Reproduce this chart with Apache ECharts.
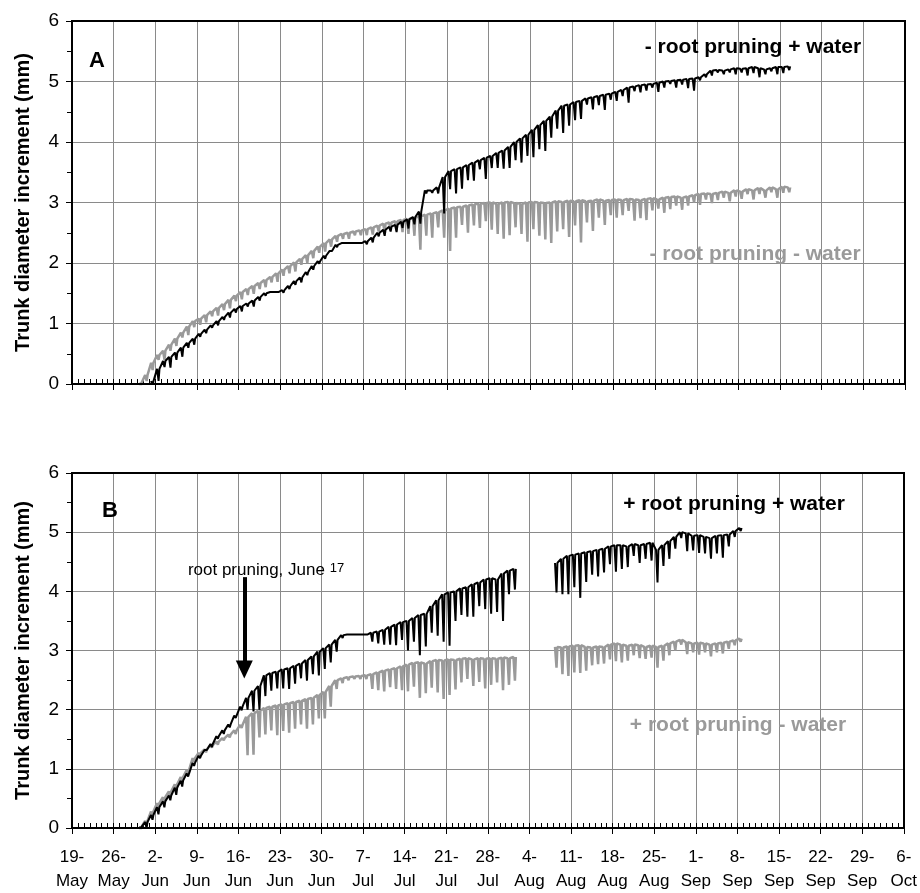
<!DOCTYPE html>
<html><head><meta charset="utf-8">
<script src="https://cdn.jsdelivr.net/npm/echarts@6/dist/echarts.min.js"></script>
<style>html,body{margin:0;padding:0;background:#fff}#c{width:920px;height:893px}</style>
</head><body><div id="c"></div>
<script>
// x axis: days since 19 May (0..140), weekly ticks
const tickLabels = ['19-\nMay','26-\nMay','2-\nJun','9-\nJun','16-\nJun','23-\nJun','30-\nJun','7-\nJul','14-\nJul','21-\nJul','28-\nJul','4-\nAug','11-\nAug','18-\nAug','25-\nAug','1-\nSep','8-\nSep','15-\nSep','22-\nSep','29-\nSep','6-\nOct'];

// Panel A, "- root pruning + water" (black): daily maxima and midday shrinkage, from day 13
const aBlackStart = 13;
const aBlackMax = [0.05,0.25,0.38,0.45,0.52,0.6,0.68,0.75,
0.83,0.9,0.97,1.04,1.11,1.18,1.24,1.29,1.33,1.38,
1.44,1.5,1.52,1.52,1.55,1.62,1.7,1.76,1.85,1.95,
2.03,2.12,2.2,2.3,2.33,2.33,2.33,2.33,2.36,2.42,
2.5,2.55,2.6,2.63,2.68,2.72,2.76,2.85,3.2,3.2,
3.25,3.42,3.52,3.55,3.58,3.62,3.66,3.7,3.74,3.77,
3.82,3.86,3.92,4.0,4.06,4.12,4.2,4.28,4.35,4.42,
4.52,4.6,4.62,4.66,4.68,4.72,4.74,4.76,4.78,4.8,
4.83,4.86,4.9,4.92,4.94,4.95,4.96,4.98,5.0,5.01,
5.02,5.03,5.04,5.05,5.07,5.12,5.18,5.19,5.18,5.2,
5.22,5.21,5.22,5.24,5.22,5.2,5.22,5.24,5.24,5.25];
const aBlackDip = [0.08,0.2,0.1,0.18,0.12,0.15,0.08,0.1,
0.05,0.06,0.04,0.07,0.05,0.08,0.06,0.09,0.05,0.1,0.06,0.04,0.02,0.03,
0.04,0.05,0.06,0.08,0.05,0.06,0.04,0.05,0.03,0.04,0.02,0.02,0.02,0.02,
0.05,0.08,0.06,0.1,0.08,0.12,0.1,0.15,0.12,0.2,
0.05,0.04,0.1,
0.6,0.3,0.4,0.35,0.25,0.3,0.15,0.35,0.2,0.25,0.3,0.35,0.3,0.4,0.35,0.45,0.4,0.5,0.35,0.3,
0.45,0.35,0.3,0.3,0.1,0.2,0.15,0.25,0.1,
0.15,0.1,0.25,0.08,0.12,0.1,0.06,0.15,0.1,0.05,0.12,0.08,0.15,0.2,0.05,
0.05,0.08,0.04,0.06,0.05,0.1,0.06,0.12,0.1,0.15,0.08,0.05,0.12,0.1,0.06];

// Panel A, "- root pruning - water" (grey), from day 11
const aGreyStart = 11;
const aGreyMax = [0.02,0.15,0.35,0.48,0.55,0.65,0.75,0.85,0.95,1.04,
1.08,1.14,1.2,1.26,1.32,1.39,1.46,1.52,1.57,1.62,
1.67,1.72,1.77,1.83,1.89,1.95,2.01,2.07,2.13,2.2,
2.27,2.33,2.39,2.45,2.48,2.5,2.52,2.54,2.56,2.59,
2.62,2.65,2.67,2.69,2.71,2.73,2.75,2.77,2.8,2.82,
2.84,2.87,2.9,2.92,2.93,2.95,2.97,2.98,2.99,3.0,
2.98,3.0,3.01,2.99,2.98,3.0,3.01,3.0,2.99,3.0,
3.02,3.01,3.03,3.02,3.04,3.02,3.03,3.05,3.03,3.04,
3.05,3.04,3.06,3.05,3.04,3.06,3.07,3.05,3.08,3.09,
3.1,3.08,3.1,3.12,3.14,3.15,3.14,3.16,3.18,3.16,
3.2,3.18,3.22,3.2,3.24,3.2,3.25,3.22,3.26,3.25];
const aGreyDip = [0.05,0.1,0.12,0.08,0.15,0.1,0.12,0.08,0.14,0.1,
0.1,0.12,0.08,0.13,0.1,0.14,0.09,0.12,0.1,0.13,
0.1,0.12,0.09,0.14,0.1,0.12,0.15,0.1,0.13,0.12,
0.1,0.14,0.12,0.1,0.08,0.1,0.06,0.08,0.1,0.12,
0.1,0.14,0.12,0.15,0.2,0.25,0.3,0.55,0.35,0.4,
0.25,0.45,0.7,0.5,0.3,0.45,0.35,0.4,0.3,0.45,
0.5,0.6,0.55,0.4,0.5,0.65,0.45,0.55,0.6,0.67,
0.5,0.45,0.6,0.4,0.7,0.35,0.5,0.3,0.4,0.25,
0.3,0.25,0.2,0.35,0.3,0.35,0.2,0.15,0.25,0.2,
0.15,0.2,0.15,0.12,0.18,0.1,0.15,0.12,0.1,0.14,
0.1,0.12,0.08,0.15,0.1,0.12,0.08,0.14,0.1,0.08];

// Panel B, "+ root pruning + water" (black): before and after the recording gap
const bBlackStart1 = 11;
const bBlackMax1 = [0.02,0.1,0.22,0.35,0.45,0.55,0.68,0.8,0.92,1.1,
1.22,1.32,1.42,1.55,1.65,1.75,1.9,2.05,2.2,2.32,
2.4,2.58,2.62,2.64,2.68,2.7,2.74,2.78,2.84,2.9,
2.98,3.04,3.1,3.18,3.26,3.27,3.27,3.27,3.27,3.3,
3.32,3.35,3.4,3.44,3.48,3.5,3.55,3.6,3.62,3.75,
3.85,3.95,3.98,4.0,4.05,4.07,4.12,4.15,4.2,4.22,
4.2,4.3,4.35,4.38];
const bBlackDip1 = [0.05,0.1,0.08,0.12,0.1,0.08,0.12,0.1,0.05,0.05,
0.04,0.03,0.05,0.04,0.06,0.05,0.04,0.06,0.2,0.35,
0.4,0.35,0.3,0.28,0.32,0.35,0.3,0.25,0.35,0.3,
0.4,0.35,0.3,0.2,0.05,0.02,0.02,0.02,0.02,0.15,
0.2,0.25,0.3,0.35,0.3,0.5,0.4,0.68,0.55,0.45,
0.6,0.8,0.9,0.5,0.45,0.5,0.55,0.4,0.5,0.6,
0.55,0.8,0.4,0.35];
const bBlackStart2 = 81;
const bBlackMax2 = [4.48,4.55,4.6,4.62,4.64,4.66,4.68,4.7,4.72,4.76,
4.78,4.78,4.76,4.8,4.78,4.8,4.82,4.7,4.78,4.85,
4.92,5.0,4.98,4.94,4.95,4.92,4.9,4.94,4.95,4.96,
5.02,5.07];
const bBlackDip2 = [0.5,0.6,0.65,0.55,0.75,0.5,0.4,0.45,0.4,0.3,
0.45,0.4,0.35,0.2,0.3,0.25,0.3,0.55,0.35,0.3,
0.2,0.1,0.3,0.25,0.3,0.28,0.35,0.3,0.38,0.2,
0.1,0.05];

// Panel B, "+ root pruning - water" (grey)
const bGreyStart1 = 11;
const bGreyMax1 = [0.02,0.12,0.28,0.42,0.52,0.62,0.74,0.86,0.98,1.18,
1.27,1.33,1.4,1.46,1.52,1.58,1.65,1.74,1.88,1.94,
1.98,2.03,2.05,2.07,2.09,2.11,2.13,2.15,2.18,2.2,
2.25,2.3,2.4,2.5,2.53,2.55,2.56,2.57,2.58,2.6,
2.63,2.66,2.68,2.7,2.73,2.76,2.79,2.8,2.78,2.82,
2.84,2.83,2.85,2.84,2.86,2.87,2.85,2.87,2.86,2.87,
2.86,2.88,2.87,2.89];
const bGreyDip1 = [0.05,0.08,0.1,0.08,0.1,0.08,0.1,0.06,0.05,0.06,
0.04,0.05,0.04,0.05,0.04,0.05,0.06,0.05,0.65,0.7,
0.45,0.45,0.4,0.5,0.45,0.5,0.45,0.4,0.5,0.45,
0.4,0.45,0.35,0.15,0.08,0.05,0.04,0.05,0.06,0.25,
0.3,0.35,0.3,0.35,0.4,0.45,0.4,0.6,0.5,0.45,
0.55,0.65,0.6,0.5,0.4,0.35,0.45,0.4,0.5,0.45,
0.4,0.55,0.45,0.4];
const bGreyStart2 = 81;
const bGreyMax2 = [3.06,3.05,3.07,3.08,3.09,3.06,3.05,3.07,3.06,3.1,
3.12,3.1,3.08,3.1,3.09,3.06,3.08,3.06,3.08,3.12,
3.15,3.18,3.14,3.12,3.13,3.12,3.1,3.12,3.13,3.15,
3.17,3.2];
const bGreyDip2 = [0.35,0.45,0.5,0.45,0.47,0.4,0.3,0.3,0.28,0.25,
0.3,0.3,0.25,0.18,0.22,0.2,0.2,0.35,0.25,0.2,
0.15,0.08,0.2,0.15,0.2,0.15,0.2,0.15,0.18,0.12,
0.08,0.05];

// root pruning date (day index) and arrow extent (mm)
const pruneDay = 29;
const arrowFrom = 4.24, arrowTo = 2.68;

function trace(start, maxs, dips) {
  const pts = [];
  for (let i = 0; i < maxs.length; i++) {
    const d = start + i;
    pts.push([d + 0.3, maxs[i]], [d + 0.55, +(maxs[i] - dips[i]).toFixed(3)], [d + 0.7, maxs[i]]);
  }
  return pts;
}

const FONT = '"Liberation Sans", Arial, sans-serif';
const GRID = [{left: 72, top: 21, width: 833, height: 363}, {left: 72, top: 473, width: 832, height: 355}];
const GRIDCOL = '#8a8a8a';

function xAxes(gi, labels) {
  return [{
    gridIndex: gi, type: 'value', min: 0, max: 140, interval: 7, position: 'bottom',
    axisLine: {show: true, onZero: false, lineStyle: {color: '#000', width: 2}},
    axisTick: {show: true, length: 6, lineStyle: {color: '#000', width: 1}},
    axisLabel: labels ? {show: true, color: '#000', fontSize: 17, fontFamily: FONT, lineHeight: 24, margin: 17,
      formatter: v => tickLabels[Math.round(v / 7)]} : {show: false},
    splitLine: {show: true, lineStyle: {color: GRIDCOL, width: 1}}
  }, {
    gridIndex: gi, type: 'value', min: 0, max: 140, interval: 1, position: 'bottom',
    axisLine: {show: false}, axisLabel: {show: false}, splitLine: {show: false},
    axisTick: {show: true, inside: true, length: 5, lineStyle: {color: '#000', width: 1}}
  }];
}
function yAxis(gi) {
  return {
    gridIndex: gi, type: 'value', min: 0, max: 6, interval: 1,
    axisLine: {show: true, onZero: false, lineStyle: {color: '#000', width: 2}},
    axisTick: {show: true, length: 6, lineStyle: {color: '#000'}},
    minorTick: {show: true, splitNumber: 2, length: 5, lineStyle: {color: '#000'}},
    axisLabel: {fontSize: 19, color: '#000', fontFamily: FONT, margin: 13},
    splitLine: {show: true, lineStyle: {color: GRIDCOL, width: 1}},
    name: 'Trunk diameter increment (mm)', nameLocation: 'middle', nameGap: 39,
    nameTextStyle: {fontSize: 20, fontWeight: 'bold', color: '#000', fontFamily: FONT}
  };
}
function line(xi, yi, data, color, width, extra) {
  return Object.assign({type: 'line', xAxisIndex: xi, yAxisIndex: yi, data: data, symbol: 'none', showSymbol: false,
    silent: true, animation: false, lineStyle: {color: color, width: width}, itemStyle: {color: color}}, extra || {});
}
const BLACK = '#000000', GREY = '#9a9a9a';

function label(x, y, text, font, color) {
  return {type: 'text', x: x, y: y, z: 120,
    style: {text: text, font: font, fill: color, align: 'center', verticalAlign: 'middle', textAlign: 'center', textVerticalAlign: 'middle'}};
}
function border(g) {
  return {type: 'rect', z: 110, silent: true, shape: {x: g.left, y: g.top, width: g.width, height: g.height},
    style: {fill: null, stroke: '#000', lineWidth: 2}};
}

const chart = echarts.init(document.getElementById('c'), null, {renderer: 'canvas'});
chart.setOption({
  animation: false,
  backgroundColor: '#fff',
  grid: GRID,
  xAxis: [...xAxes(0, false), ...xAxes(1, true)],
  yAxis: [yAxis(0), yAxis(1)],
  series: [
    line(0, 0, trace(aGreyStart, aGreyMax, aGreyDip), GREY, 2.5),
    line(0, 0, trace(aBlackStart, aBlackMax, aBlackDip), BLACK, 2),
    line(2, 1, trace(bGreyStart1, bGreyMax1, bGreyDip1), GREY, 2.5),
    line(2, 1, trace(bGreyStart2, bGreyMax2, bGreyDip2), GREY, 2.5),
    line(2, 1, trace(bBlackStart1, bBlackMax1, bBlackDip1), BLACK, 2, {
      markLine: {silent: true, animation: false, symbol: ['none', 'triangle'], symbolSize: [17, 18],
        label: {show: false}, lineStyle: {color: '#000', width: 4, type: 'solid'},
        data: [[{coord: [pruneDay, arrowFrom], symbol: 'none'}, {coord: [pruneDay, arrowTo], symbol: 'triangle'}]]}
    }),
    line(2, 1, trace(bBlackStart2, bBlackMax2, bBlackDip2), BLACK, 2)
  ],
  graphic: [
    border(GRID[0]), border(GRID[1]),
    label(97, 61, 'A', 'bold 22px ' + FONT, '#000'),
    label(110, 511, 'B', 'bold 22px ' + FONT, '#000'),
    label(753, 47, '- root pruning + water', 'bold 21px ' + FONT, '#000'),
    label(755, 254, '- root pruning - water', 'bold 21px ' + FONT, GREY),
    label(734, 504, '+ root pruning + water', 'bold 21px ' + FONT, '#000'),
    label(738, 725, '+ root pruning - water', 'bold 21px ' + FONT, GREY),
    {type: 'text', x: 266, y: 570, z: 120, style: {text: 'root pruning, June {s|17}', font: '17px ' + FONT, fill: '#000',
      align: 'center', verticalAlign: 'middle', textAlign: 'center', textVerticalAlign: 'middle',
      rich: {s: {fontSize: 13, fontFamily: FONT, fill: '#000', verticalAlign: 'top'}}}}
  ]
});
</script></body></html>
